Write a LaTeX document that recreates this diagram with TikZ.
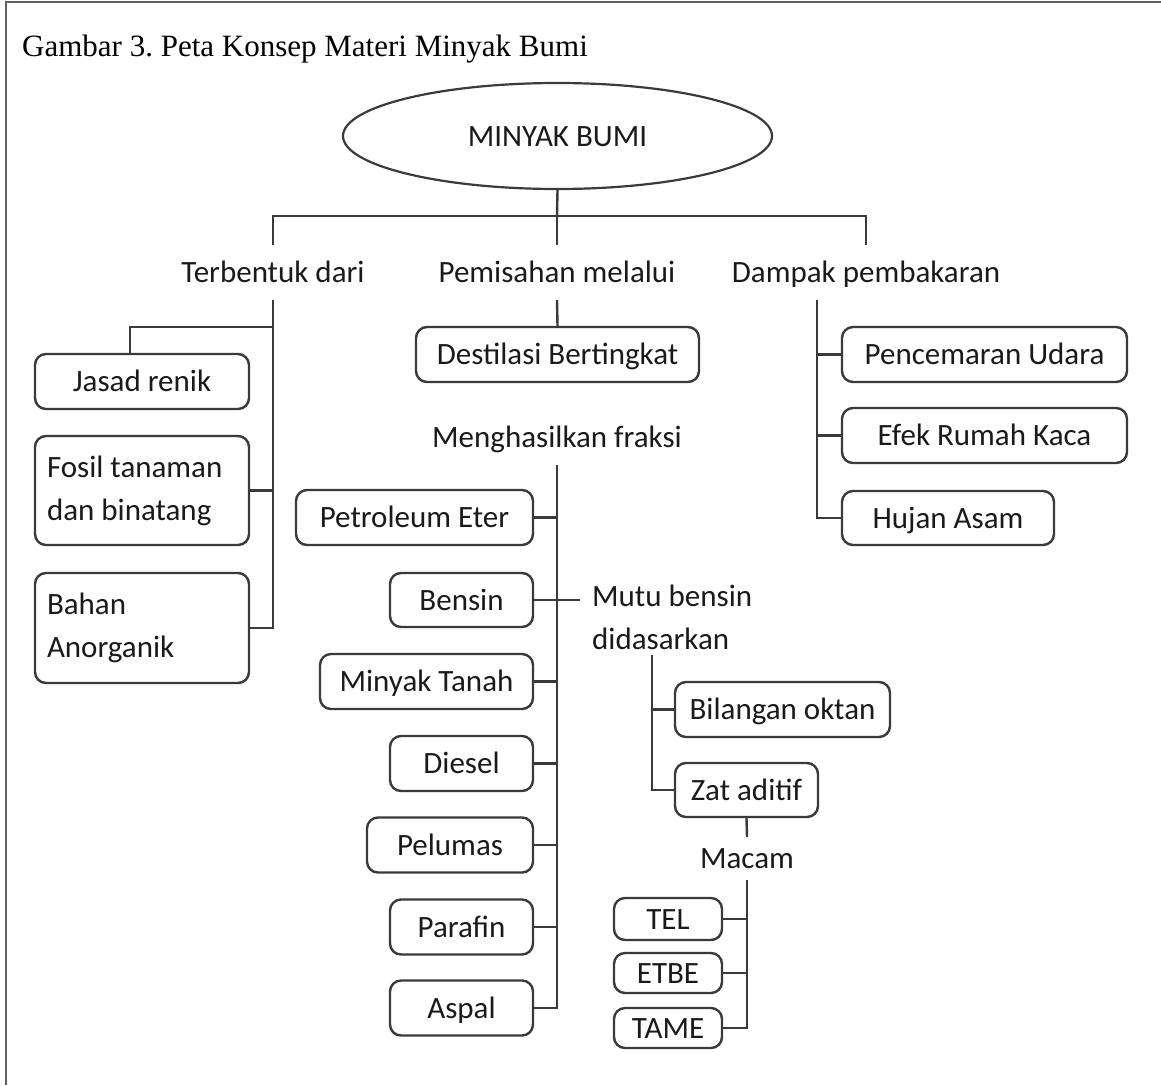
\documentclass[tikz,border=0pt]{standalone}
\usepackage{fontspec}
\setmainfont{Carlito}
\newfontfamily\titlefont{Liberation Serif}
\usetikzlibrary{shapes.geometric}
\definecolor{linec}{HTML}{3A3A3A}
\definecolor{textc}{HTML}{1A1A1A}
\frenchspacing
\begin{document}
\begin{tikzpicture}[x=1pt,y=-1pt,
  every node/.style={font=\fontsize{31}{43}\selectfont, text=textc},
  cbox/.style={draw=linec, line width=2.4pt, rounded corners=11pt, minimum height=55pt, inner sep=0pt, text height=26pt, text depth=6pt},
  lbl/.style={inner sep=0pt},
  sl/.style={text height=26pt, text depth=6pt},
  ln/.style={draw=linec, line width=2.4pt},
  lbox/.style={draw=linec, line width=2.4pt, rounded corners=11pt, inner sep=0pt, align=flush left, text width=190pt, minimum width=214pt}]
\useasboundingbox (0,0) rectangle (1161,1085);
\draw[draw=linec!80, line width=1.5pt] (6,1085) -- (6,2) -- (1161,2);

\node[anchor=base west, inner sep=0pt, font=\titlefont\fontsize{31}{36}\selectfont, text=black] (title) at (22,56) {Gambar 3. Peta Konsep Materi Minyak Bumi};

\node[ellipse, draw=linec, line width=2.2pt, minimum width=429pt, minimum height=106pt, inner sep=0pt, text height=26pt, text depth=6pt] (ell) at (557.5,136) {MINYAK BUMI};

% level 1 labels
\node[lbl, sl, minimum height=55pt] (terb) at (273,272.5) {Terbentuk dari};
\node[lbl, sl, minimum height=55pt] (pemis) at (557,272.5) {Pemisahan melalui};
\node[lbl, sl, minimum height=55pt] (dampak) at (866,272.5) {Dampak pembakaran};

% left branch
\node[cbox, minimum width=214pt] (jasad) at (142,381.5) {Jasad renik};
\node[lbox, minimum height=109pt] (fosil) at (142,490.5) {Fosil tanaman\\dan binatang};
\node[lbox, minimum height=110pt] (bahan) at (142,628) {Bahan\\Anorganik};

% middle branch
\node[cbox, minimum width=283pt] (dest) at (557.5,354.5) {Destilasi Bertingkat};
\node[lbl, sl, minimum height=55pt] (mengh) at (557,437) {Menghasilkan fraksi};
\node[cbox, minimum width=237pt] (petro) at (414.5,517.5) {Petroleum Eter};
\node[cbox, minimum width=143pt, minimum height=54pt] (bensin) at (461.5,600) {Bensin};
\node[cbox, minimum width=213pt] (mtanah) at (426.5,681.5) {Minyak Tanah};
\node[cbox, minimum width=143pt] (diesel) at (461.5,763.5) {Diesel};
\node[cbox, minimum width=166pt] (pelumas) at (450,845) {Pelumas};
\node[cbox, minimum width=143pt] (parafin) at (461.5,927) {Parafin};
\node[cbox, minimum width=143pt] (aspal) at (461.5,1008) {Aspal};

% mutu bensin
\node[lbl, align=flush left, anchor=west] (mutu) at (592,617) {Mutu bensin\\didasarkan};
\node[cbox, minimum width=215pt] (bil) at (782.5,709.5) {Bilangan oktan};
\node[cbox, minimum width=143pt, minimum height=54pt] (zat) at (746.5,790) {Zat aditif};
\node[lbl, sl, minimum height=43pt] (macam) at (747,858.5) {Macam};
\node[cbox, minimum width=108pt, minimum height=42pt] (tel) at (668,919) {TEL};
\node[cbox, minimum width=108pt, minimum height=40pt] (etbe) at (668,973) {ETBE};
\node[cbox, minimum width=108pt, minimum height=40pt] (tame) at (668,1028) {TAME};

% right branch
\node[cbox, minimum width=285pt] (pencem) at (984.5,354.5) {Pencemaran Udara};
\node[cbox, minimum width=285pt] (efek) at (984.5,435.5) {Efek Rumah Kaca};
\node[cbox, minimum width=212pt, minimum height=54pt] (hujan) at (948,518) {Hujan Asam};

% junction coordinates
\coordinate (bar) at (557,216);
\coordinate (tj) at (273,327);
\coordinate (jd) at (130,327);
\coordinate (mutuend) at (580,600);
\coordinate (mv) at (652,655);
\coordinate (dv) at (817,300);

% connectors
\draw[ln] (ell.south) -- (bar);
\draw[ln] (terb.north) -- (terb.north |- bar) -- (dampak.north |- bar) -- (dampak.north);
\draw[ln] (bar) -- (pemis.north);

\draw[ln] (terb.south) -- (terb.south |- bahan.east) -- (bahan.east);
\draw[ln] (tj) -- (jd) -- (jd |- jasad.north);
\draw[ln] (fosil.east) -- (fosil.east -| terb.south);

\draw[ln] (pemis.south) -- (dest.north);

\draw[ln] (mengh.south) -- (mengh.south |- aspal.east) -- (aspal.east);
\foreach \n in {petro,mtanah,diesel,pelumas,parafin}
  \draw[ln] (\n.east) -- (\n.east -| mengh.south);
\draw[ln] (bensin.east) -- (mutuend);

\draw[ln] (mv) |- (zat.west);
\draw[ln] (bil.west) -- (bil.west -| mv);
\draw[ln] (zat.south) -- (macam.north);
\draw[ln] (macam.south) |- (tame.east);
\draw[ln] (tel.east) -- (tel.east -| macam.south);
\draw[ln] (etbe.east) -- (etbe.east -| macam.south);

\draw[ln] (dv) |- (hujan.west);
\draw[ln] (pencem.west) -- (pencem.west -| dv);
\draw[ln] (efek.west) -- (efek.west -| dv);
\end{tikzpicture}
\end{document}
